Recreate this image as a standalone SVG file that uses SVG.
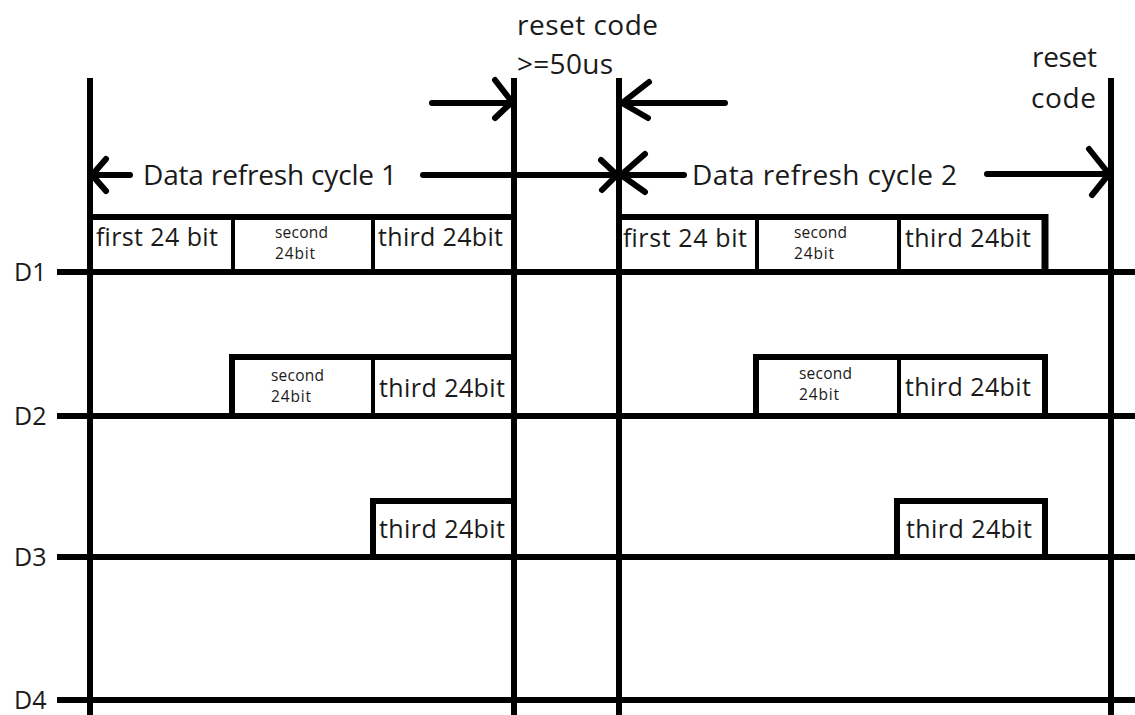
<svg xmlns="http://www.w3.org/2000/svg" width="1135" height="715" viewBox="0 0 1135 715">
<style>
.ln{stroke:#000;stroke-width:6;fill:none;stroke-linecap:butt}
.dv{stroke:#000;stroke-width:4;fill:none}
.ar{stroke:#000;stroke-width:6;fill:none;stroke-linecap:round;stroke-linejoin:round}
text{font-family:"Open Sans","Noto Sans","Liberation Sans",sans-serif;fill:#1a1a1a}
.big{font-size:28px}
.bx{font-size:25px}
.sm{font-size:15.5px}
.lbl{font-size:25px}
</style>
<rect width="1135" height="715" fill="#fff"/>
<g id="connectors">
  <g id="verticals">
    <line class="ln" x1="90" y1="78" x2="90" y2="715"/>
    <line class="ln" x1="514" y1="78" x2="514" y2="715"/>
    <line class="ln" x1="619" y1="78" x2="619" y2="715"/>
    <line class="ln" x1="1111" y1="78" x2="1111" y2="715"/>
  </g>
  <g id="arrows">
    <path class="ar" d="M90,175 H130"/><path class="ar" d="M106,159 L92,175 L106,191"/>
    <path class="ar" d="M423,175 H616"/><path class="ar" d="M601,160 L617,175 L602,190"/>
    <path class="ar" d="M621,175 H684"/><path class="ar" d="M645,154 L621,175 L645,192"/>
    <path class="ar" d="M987,174 H1108"/><path class="ar" d="M1089,149 L1109,174 L1092,195"/>
    <path class="ar" d="M432,103 H511"/><path class="ar" d="M495,80 L512,102 L495,118"/>
    <path class="ar" d="M725,103 H622"/><path class="ar" d="M649,82 L622,103 L648,118"/>
  </g>
</g>
<g id="D1">
  <text class="lbl" x="14" y="281">D1</text>
  <line class="ln" x1="57" y1="272" x2="1135" y2="272"/>
  <path class="ln" d="M90,217 H514"/>
  <line class="dv" x1="233" y1="217" x2="233" y2="272"/>
  <line class="dv" x1="373" y1="217" x2="373" y2="272"/>
  <path class="ln" d="M619,217 H1045"/>
  <line x1="1045" y1="214" x2="1045" y2="272" stroke="#000" stroke-width="7"/>
  <line class="dv" x1="757" y1="217" x2="757" y2="272"/>
  <line class="dv" x1="899" y1="217" x2="899" y2="272"/>
  <text class="bx" x="96" y="246" textLength="122">first 24 bit</text>
  <text class="sm" x="275" y="238" textLength="53">second</text>
  <text class="sm" x="275" y="259" textLength="40">24bit</text>
  <text class="bx" x="378" y="246" textLength="125">third 24bit</text>
  <text class="bx" x="623" y="247" textLength="124">first 24 bit</text>
  <text class="sm" x="794" y="238" textLength="53">second</text>
  <text class="sm" x="794" y="259" textLength="40">24bit</text>
  <text class="bx" x="905" y="247" textLength="126">third 24bit</text>
</g>
<g id="D2">
  <text class="lbl" x="14" y="425">D2</text>
  <line class="ln" x1="57" y1="416" x2="1135" y2="416"/>
  <path class="ln" d="M232,416 V357 H514"/>
  <line class="dv" x1="373" y1="357" x2="373" y2="416"/>
  <path class="ln" d="M756,416 V357 H1045 V416"/>
  <line class="dv" x1="899" y1="357" x2="899" y2="416"/>
  <text class="sm" x="271" y="381" textLength="53">second</text>
  <text class="sm" x="271" y="402" textLength="40">24bit</text>
  <text class="bx" x="379" y="397" textLength="126">third 24bit</text>
  <text class="sm" x="799" y="379" textLength="53">second</text>
  <text class="sm" x="799" y="400" textLength="40">24bit</text>
  <text class="bx" x="905" y="396" textLength="126">third 24bit</text>
</g>
<g id="D3">
  <text class="lbl" x="14" y="566">D3</text>
  <line class="ln" x1="57" y1="557" x2="1135" y2="557"/>
  <path class="ln" d="M373,557 V501 H514"/>
  <path class="ln" d="M897,557 V501 H1045 V557"/>
  <text class="bx" x="379" y="538" textLength="126">third 24bit</text>
  <text class="bx" x="906" y="538" textLength="126">third 24bit</text>
</g>
<g id="D4">
  <text class="lbl" x="14" y="709">D4</text>
  <line class="ln" x1="57" y1="700" x2="1135" y2="700"/>
</g>
<g id="labels">
  <text class="big" x="517" y="35" textLength="141">reset code</text>
  <text class="big" x="517" y="74" textLength="96">&gt;=50us</text>
  <text class="big" x="1032" y="67" textLength="65">reset</text>
  <text class="big" x="1031" y="108" textLength="65">code</text>
  <text class="big" x="143" y="185" textLength="254">Data refresh cycle 1</text>
  <text class="big" x="692" y="185" textLength="265">Data refresh cycle 2</text>
</g>
</svg>
